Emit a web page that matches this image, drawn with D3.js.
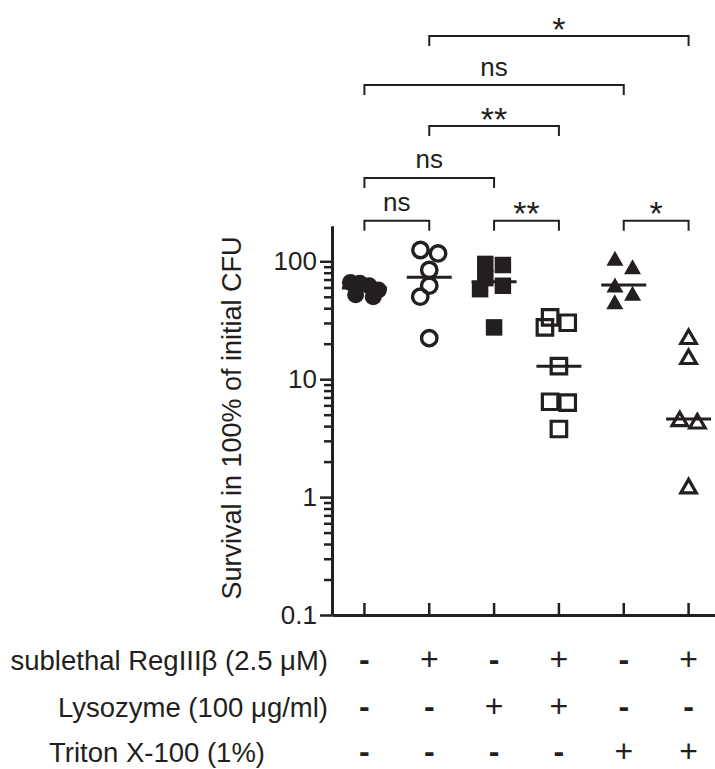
<!DOCTYPE html>

<head>
    <meta charset="utf-8">
    <title>Survival after RegIIIb, lysozyme and Triton</title>
    <style>
        body { margin: 0; background: #fff; }
        text { font-family: "Liberation Sans", Arial, Helvetica, sans-serif; fill: #231f20; }
    </style>
</head>

<body>

    <svg width="715" height="769"></svg>

    <script src="https://d3js.org/d3.v7.min.js"></script>

    <script>

        // groups, left to right
        var groups = ["ctrl", "regIII", "lyso", "regIII+lyso", "triton", "regIII+triton"];

        // survival in % of initial CFU
        var survival = [
            [66, 65, 62, 57, 52, 50],
            [124.7, 116.5, 84.4, 62.1, 50.1, 22.3],
            [95, 93, 72, 62, 58, 27.5],
            [33.5, 30.1, 27.5, 12.9, 6.44, 6.32, 3.78],
            [106, 90, 63, 53.6, 45.4],
            [22.9, 15.5, 4.6, 4.4, 1.24]
        ];

        // treatment table under the axis
        var treatments = ["sublethal RegIII\u03b2 (2.5 \u03bcM)", "Lysozyme (100 \u03bcg/ml)", "Triton X-100 (1%)"];
        var regIII   = ["-", "+", "-", "+", "-", "+"];
        var lysozyme = ["-", "-", "+", "+", "-", "-"];
        var triton   = ["-", "-", "-", "-", "+", "+"];

        // y axis ticks
        var yTicks = [0.1, 1, 10, 100];
        var yTickLabels = ["0.1", "1", "10", "100"];

        // significance brackets (group index from, to, label, height in % units)
        var comparisons = [
            { from: 0, to: 1, label: "ns", at: 221 },
            { from: 2, to: 3, label: "**", at: 221 },
            { from: 4, to: 5, label: "*", at: 221 },
            { from: 0, to: 2, label: "ns", at: 509 },
            { from: 1, to: 3, label: "**", at: 1405 },
            { from: 0, to: 4, label: "ns", at: 3126 },
            { from: 1, to: 5, label: "*", at: 8150 }
        ];

        var svg = d3.select("svg"),
            ink = "#231f20";

        var x = d3.scaleBand().domain(d3.range(groups.length)).range([332, 721]),
            y = d3.scaleLog().domain([0.1, 200]).range([615, 225.8]);

        var xc = function (i) { return x(i) + x.bandwidth() / 2; };

        // minor ticks 2..9 per decade, none above 100
        var minor = [];
        [0.1, 1, 10].forEach(function (d) {
            for (var k = 2; k <= 9; k++) minor.push(d * k);
        });

        // y axis
        var yAxis = svg.append("g")
            .attr("transform", "translate(332,0)");

        yAxis.append("g")
            .call(d3.axisLeft(y).tickValues(minor).tickSize(8).tickSizeOuter(0).tickFormat(""))
            .call(function (g) { g.select(".domain").remove(); });

        yAxis.append("g")
            .call(d3.axisLeft(y).tickValues(yTicks).tickSize(12).tickSizeOuter(0).tickPadding(3)
                .tickFormat(function (d, i) { return yTickLabels[i]; }));

        yAxis.selectAll("line").attr("stroke", ink).attr("stroke-width", 2.5);
        yAxis.selectAll(".domain").attr("stroke", ink).attr("stroke-width", 3);
        yAxis.selectAll("text")
            .attr("fill", ink)
            .style("font-size", "26px")
            .style("font-family", "Liberation Sans, Arial, sans-serif");

        // x axis
        var xAxis = svg.append("g")
            .attr("transform", "translate(0,615)")
            .call(d3.axisBottom(x).tickSize(-12).tickSizeOuter(0).tickFormat(""));
        xAxis.selectAll("line").attr("stroke", ink).attr("stroke-width", 2.5);
        xAxis.select(".domain").attr("stroke", ink).attr("stroke-width", 3);

        svg.append("text")
            .attr("transform", "translate(241,418) rotate(-90)")
            .attr("text-anchor", "middle")
            .style("font-size", "27px")
            .text("Survival in 100% of initial CFU");

        // simple dodge: rows of close points are centred, lone points step aside if they collide
        function dodge(vals, d) {
            var pts = vals.map(function (v) { return { v: v, y: y(v) }; })
                .sort(function (a, b) { return a.y - b.y; });
            var rows = [];
            pts.forEach(function (p) {
                var r = rows[rows.length - 1];
                if (r && p.y - r[0].y < d * 0.55) r.push(p); else rows.push([p]);
            });
            var placed = [], last = 0;
            rows.forEach(function (r) {
                if (r.length > 1) {
                    var sp = Math.min(d * 1.1, 28 / (r.length - 1));
                    r.forEach(function (p, i) { p.dx = (i - (r.length - 1) / 2) * sp; placed.push(p); });
                    last = 0;
                } else {
                    var p = r[0], dir = last < 0 ? 1 : -1;
                    var cands = [0, dir * 9, -dir * 9, dir * 14, -dir * 14];
                    var best = 0, bestD = -1;
                    for (var c = 0; c < cands.length; c++) {
                        var m = placed.length ? d3.min(placed, function (q) { return Math.hypot(q.dx - cands[c], q.y - p.y); }) : Infinity;
                        if (m >= d * 0.85) { best = cands[c]; break; }
                        if (m > bestD) { bestD = m; best = cands[c]; }
                    }
                    p.dx = best; placed.push(p); last = best;
                }
            });
            return pts;
        }

        function triangle(w, h) {
            return "M0," + (-h / 2) + "L" + (w / 2) + "," + (h / 2) + "L" + (-w / 2) + "," + (h / 2) + "Z";
        }

        var markers = [
            { path: d3.symbol(d3.symbolCircle, Math.PI * 8.5 * 8.5)(), fill: ink, stroke: "none", sw: 0 },
            { path: d3.symbol(d3.symbolCircle, Math.PI * 7.7 * 7.7)(), fill: "none", stroke: ink, sw: 3.4 },
            { path: d3.symbol(d3.symbolSquare, 16.5 * 16.5)(), fill: ink, stroke: "none", sw: 0 },
            { path: d3.symbol(d3.symbolSquare, 15.5 * 15.5)(), fill: "none", stroke: ink, sw: 3.2 },
            { path: triangle(17, 15), fill: ink, stroke: "none", sw: 0 },
            { path: triangle(15.5, 13.5), fill: "none", stroke: ink, sw: 3.2 }
        ];

        var grp = svg.selectAll(".grp")
            .data(survival)
            .enter().append("g")
            .attr("class", "grp");

        grp.each(function (vals, i) {
            var m = markers[i];
            d3.select(this).selectAll("path.pt")
                .data(dodge(vals, 16))
                .enter().append("path")
                .attr("class", "pt")
                .attr("d", m.path)
                .attr("transform", function (p) { return "translate(" + (xc(i) + p.dx) + "," + p.y + ")"; })
                .attr("fill", m.fill)
                .attr("stroke", m.stroke)
                .attr("stroke-width", m.sw)
                .attr("stroke-linejoin", "miter");
        });

        // median lines
        grp.append("line")
            .attr("x1", function (d, i) { return xc(i) - 22.5; })
            .attr("x2", function (d, i) { return xc(i) + 22.5; })
            .attr("y1", function (d) { return y(d3.median(d)); })
            .attr("y2", function (d) { return y(d3.median(d)); })
            .attr("stroke", ink)
            .attr("stroke-width", 3);

        // significance brackets
        var br = svg.selectAll(".bracket")
            .data(comparisons)
            .enter().append("g")
            .attr("class", "bracket");

        br.append("path")
            .attr("fill", "none")
            .attr("stroke", ink)
            .attr("stroke-width", 2)
            .attr("d", function (c) {
                var yy = y(c.at);
                return "M" + xc(c.from) + "," + (yy + 10) + "V" + yy + "H" + xc(c.to) + "V" + (yy + 10);
            });

        br.append("text")
            .attr("x", function (c) { return (xc(c.from) + xc(c.to)) / 2; })
            .attr("y", function (c) {
                return c.label === "ns" ? y(c.at) - 9.5 : y(c.at) - 10 + 0.43 * 34;
            })
            .attr("text-anchor", "middle")
            .style("font-size", function (c) { return c.label === "ns" ? "26px" : "34px"; })
            .text(function (c) { return c.label; });

        // treatment table
        var rows = [regIII, lysozyme, triton],
            rowBase = [670, 717, 762];

        treatments.forEach(function (t, r) {
            svg.append("text")
                .attr("x", r < 2 ? 328 : 49)
                .attr("y", rowBase[r])
                .attr("text-anchor", r < 2 ? "end" : "start")
                .style("font-size", "27.5px")
                .text(t);

            svg.selectAll(".sign" + r)
                .data(rows[r])
                .enter().append("text")
                .attr("class", "sign" + r)
                .attr("x", function (d, i) { return xc(i); })
                .attr("y", rowBase[r])
                .attr("text-anchor", "middle")
                .style("font-size", "32px")
                .style("font-weight", function (d) { return d === "-" ? "bold" : "normal"; })
                .text(function (d) { return d; });
        });

    </script>

</body>
